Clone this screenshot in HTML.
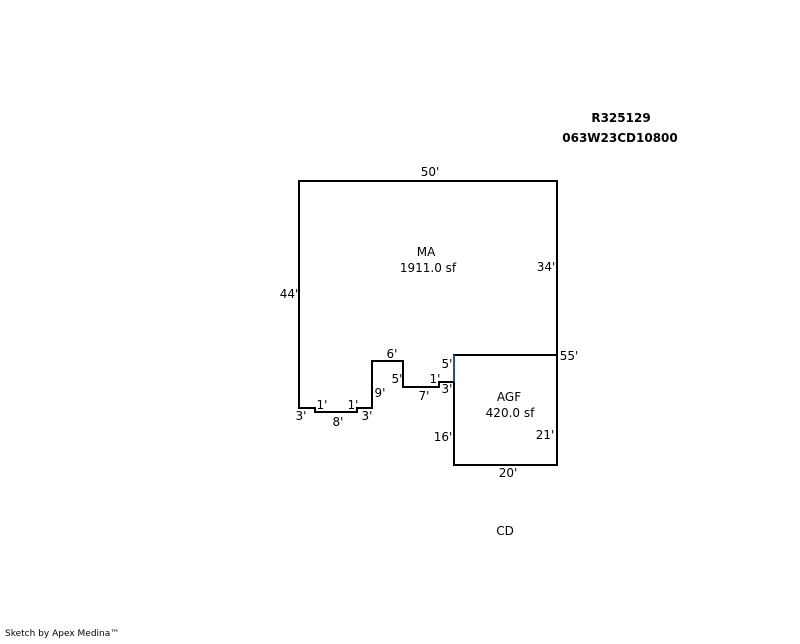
<!DOCTYPE html>
<html><head><style>
body{margin:0;background:#fff;width:800px;height:640px;overflow:hidden;position:relative;font-family:"DejaVu Sans","Liberation Sans",sans-serif;}
svg text{font-family:"DejaVu Sans","Liberation Sans",sans-serif;font-size:12px;fill:#000;}
</style></head><body>
<svg width="800" height="640" xmlns="http://www.w3.org/2000/svg">
<g fill="none" stroke="#000" stroke-width="2">
<polyline points="454,355 557,355 557,181 299,181 299,408 315,408 315,412 357,412 357,408 372,408 372,361 403,361 403,387 439,387 439,382 454,382"/>
<rect x="454" y="355" width="103" height="110"/>
</g>
<line x1="454" y1="355" x2="454" y2="382" stroke="#1f4fa0" stroke-width="2"/>
<text x="621" y="122" text-anchor="middle" font-weight="bold" style="font-weight:bold">R325129</text>
<text x="620" y="142" text-anchor="middle" style="font-weight:bold">063W23CD10800</text>
<text x="430" y="176" text-anchor="middle">50'</text>
<text x="426" y="256" text-anchor="middle">MA</text>
<text x="428" y="272" text-anchor="middle">1911.0 sf</text>
<text x="546" y="271" text-anchor="middle">34'</text>
<text x="289" y="298" text-anchor="middle">44'</text>
<text x="569" y="360" text-anchor="middle">55'</text>
<text x="392" y="358" text-anchor="middle">6'</text>
<text x="447" y="368" text-anchor="middle">5'</text>
<text x="397" y="383" text-anchor="middle">5'</text>
<text x="435" y="383" text-anchor="middle">1'</text>
<text x="447" y="393" text-anchor="middle">3'</text>
<text x="380" y="397" text-anchor="middle">9'</text>
<text x="424" y="400" text-anchor="middle">7'</text>
<text x="509" y="401" text-anchor="middle">AGF</text>
<text x="510" y="417" text-anchor="middle">420.0 sf</text>
<text x="322" y="409" text-anchor="middle">1'</text>
<text x="353" y="409" text-anchor="middle">1'</text>
<text x="301" y="420" text-anchor="middle">3'</text>
<text x="367" y="420" text-anchor="middle">3'</text>
<text x="338" y="426" text-anchor="middle">8'</text>
<text x="545" y="439" text-anchor="middle">21'</text>
<text x="443" y="441" text-anchor="middle">16'</text>
<text x="508" y="477" text-anchor="middle">20'</text>
<text x="505" y="535" text-anchor="middle">CD</text>
<text x="5" y="636" style="font-size:9px">Sketch by Apex Medina™</text>
</svg>
</body></html>
